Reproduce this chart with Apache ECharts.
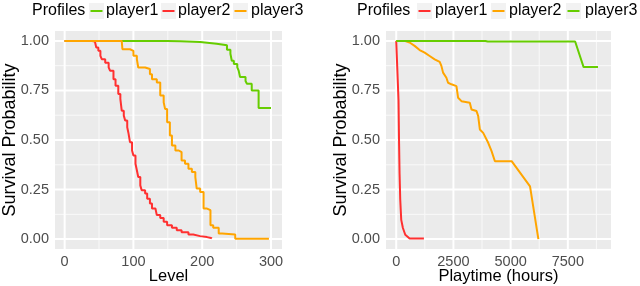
<!DOCTYPE html>
<html><head><meta charset="utf-8">
<script src="https://cdn.jsdelivr.net/npm/echarts@6/dist/echarts.min.js"></script>
<style>html,body{margin:0;padding:0;background:#fff}#c{width:640px;height:286px}</style>
</head><body><div id="c"></div>
<script>
// ---------- data ----------
const legendTitle = 'Profiles';
const playerNames = ['player1', 'player2', 'player3'];
const leftXTitle = 'Level';
const rightXTitle = 'Playtime (hours)';
const yTitle = 'Survival Probability';

// Left panel: survival probability by level
const levelPlayer1 = [[0,1],[100,1],[149,0.998],[168,0.995],[197,0.986],[221,0.978],[236,0.955],[241,0.935],[243,0.90],[246,0.884],[251,0.866],[253,0.85],[255,0.818],[263,0.798],[265,0.784],[272,0.75],[282,0.661],[300,0.661]];
const levelPlayer2 = [[0,1],[40,0.997],[44,0.988],[46,0.967],[49,0.95],[52,0.925],[54,0.908],[59,0.89],[64,0.866],[66,0.85],[71,0.807],[74,0.774],[78,0.732],[81,0.707],[83,0.648],[86,0.623],[88,0.598],[91,0.564],[93,0.531],[95,0.489],[98,0.447],[100,0.422],[103,0.38],[105,0.347],[107,0.313],[110,0.271],[112,0.246],[117,0.23],[120,0.204],[124,0.179],[127,0.154],[132,0.146],[134,0.121],[139,0.107],[144,0.087],[149,0.07],[156,0.057],[163,0.045],[170,0.034],[180,0.023],[187,0.015],[197,0.01],[207,0.006],[213,0.003],[214,0.003]];
const levelPlayer3 = [[0,1],[83,1],[84,0.958],[95,0.95],[100,0.925],[105,0.908],[107,0.866],[117,0.858],[124,0.832],[127,0.807],[134,0.79],[139,0.724],[144,0.69],[146,0.657],[149,0.59],[153,0.523],[156,0.472],[161,0.447],[166,0.439],[170,0.397],[175,0.38],[180,0.355],[185,0.338],[190,0.313],[192,0.255],[197,0.238],[202,0.154],[207,0.146],[212,0.07],[216,0.057],[224,0.028],[229,0.023],[248,0.002],[297,0.002]];

// Right panel: survival probability by playtime (hours)
const hoursPlayer1 = [[0,1],[40,0.99],[100,0.70],[125,0.48],[146,0.33],[175,0.2],[219,0.097],[292,0.056],[395,0.022],[585,0.003],[1210,0.003]];
const hoursPlayer2 = [[0,1],[365,1],[585,0.992],[804,0.975],[1023,0.954],[1243,0.941],[1462,0.924],[1681,0.907],[1900,0.894],[1974,0.874],[2047,0.84],[2193,0.814],[2266,0.789],[2412,0.781],[2632,0.772],[2705,0.713],[2851,0.696],[3216,0.688],[3290,0.654],[3509,0.646],[3582,0.621],[3655,0.553],[3801,0.536],[4020,0.486],[4167,0.444],[4313,0.393],[5044,0.393],[5848,0.266],[6213,0]];
const hoursPlayer3 = [[0,1],[3900,1],[4000,0.997],[7820,0.997],[8190,0.868],[8820,0.868]];

// Tick values
const yTicks = [0, 0.25, 0.5, 0.75, 1];
const yMinorTicks = [0.125, 0.375, 0.625, 0.875];
const levelTicks = [0, 100, 200, 300];
const levelMinorTicks = [50, 150, 250];
const hoursTicks = [0, 2500, 5000, 7500];
const hoursMinorTicks = [1250, 3750, 6250, 8750];

// ---------- styling ----------
const GREEN = '#66CD00', RED = '#FF3030', ORANGE = '#FFA500';
const leftColors = [GREEN, RED, ORANGE];
const rightColors = [RED, ORANGE, GREEN];
const FONT = '"Liberation Sans", Arial, Helvetica, sans-serif';
const PANEL = '#EBEBEB';

const grids = [
  {left: 55, top: 31, width: 227, height: 218},
  {left: 386, top: 31, width: 225, height: 218}
];
const xRanges = [[-14, 316], [-447, 9387]];
const yRange = [-0.05, 1.05];

function xAxisFor(i, ticks, title, fmt) {
  return {
    type: 'value', gridIndex: i, min: xRanges[i][0], max: xRanges[i][1],
    axisLine: {show: false},
    axisTick: {show: true, length: 3, lineStyle: {color: '#333', width: 1}, customValues: ticks},
    axisLabel: {customValues: ticks, color: '#4D4D4D', fontSize: 14.5, fontFamily: FONT, margin: 5, formatter: fmt},
    splitLine: {show: false},
    name: title, nameLocation: 'middle', nameGap: 19, nameMoveOverlap: false,
    nameTextStyle: {fontSize: 16.5, fontFamily: FONT, color: '#000', verticalAlign: 'top'}
  };
}
function yAxisFor(i) {
  return {
    type: 'value', gridIndex: i, min: yRange[0], max: yRange[1],
    axisLine: {show: false},
    axisTick: {show: true, length: 3, lineStyle: {color: '#333', width: 1}, customValues: yTicks},
    axisLabel: {customValues: yTicks, color: '#4D4D4D', fontSize: 14.5, fontFamily: FONT, margin: 6,
      formatter: v => v.toFixed(2)},
    splitLine: {show: false},
    name: yTitle, nameLocation: 'middle', nameGap: 36, nameRotate: 90, nameMoveOverlap: false,
    nameTextStyle: {fontSize: 18, fontFamily: FONT, color: '#000'}
  };
}

// panel background drawn as an area series spanning the full axis ranges (bottom layer)
function panelBackground(i) {
  return {
    type: 'line', xAxisIndex: i, yAxisIndex: i, silent: true, z: 1, animation: false,
    symbol: 'none', showSymbol: false,
    data: [[xRanges[i][0], yRange[1]], [xRanges[i][1], yRange[1]]],
    lineStyle: {width: 0, color: PANEL},
    areaStyle: {color: PANEL, opacity: 1, origin: 'start'}
  };
}

// grid lines drawn as two-point line series through the axes
function gridLines(i, vals, dir, width, color) {
  return vals.map(v => ({
    type: 'line', xAxisIndex: i, yAxisIndex: i, silent: true, z: 2, animation: false,
    symbol: 'none', showSymbol: false,
    data: dir === 'x' ? [[v, yRange[0]], [v, yRange[1]]] : [[xRanges[i][0], v], [xRanges[i][1], v]],
    lineStyle: {color: color, width: width, opacity: 1}, itemStyle: {color: color}
  }));
}

function curve(i, name, data, color, step) {
  return {
    type: 'line', name: name, xAxisIndex: i, yAxisIndex: i, data: data,
    step: step ? 'end' : false, showSymbol: false, symbol: 'none', z: 5,
    lineStyle: {color: color, width: 2}, itemStyle: {color: color}, animation: false
  };
}

const MAJOR = 2, MINOR = 1;
const MAJOR_COLOR = '#FFFFFF', MINOR_COLOR = '#F9F9F9';
let series = [panelBackground(0), panelBackground(1)];
series = series.concat(gridLines(0, levelMinorTicks, 'x', MINOR, MINOR_COLOR));
series = series.concat(gridLines(0, yMinorTicks, 'y', MINOR, MINOR_COLOR));
series = series.concat(gridLines(0, levelTicks, 'x', MAJOR, MAJOR_COLOR));
series = series.concat(gridLines(0, yTicks, 'y', MAJOR, MAJOR_COLOR));
series = series.concat(gridLines(1, hoursMinorTicks, 'x', MINOR, MINOR_COLOR));
series = series.concat(gridLines(1, yMinorTicks, 'y', MINOR, MINOR_COLOR));
series = series.concat(gridLines(1, hoursTicks, 'x', MAJOR, MAJOR_COLOR));
series = series.concat(gridLines(1, yTicks, 'y', MAJOR, MAJOR_COLOR));

const levelData = [levelPlayer1, levelPlayer2, levelPlayer3];
const hoursData = [hoursPlayer1, hoursPlayer2, hoursPlayer3];
playerNames.forEach((n, k) => series.push(curve(0, n, levelData[k], leftColors[k], true)));
playerNames.forEach((n, k) => series.push(curve(1, n, hoursData[k], rightColors[k], false)));

// ---------- legends (drawn as graphics) ----------
const legendLayouts = [
  {title: 32, keys: [89, 161, 233], texts: [106, 178, 251]},
  {title: 357, keys: [417, 491, 566], texts: [435, 509, 585]}
];
const legendColors = [leftColors, rightColors];
const graphic = [];
legendLayouts.forEach((L, p) => {
  graphic.push({type: 'text', left: L.title, top: 3, silent: true,
    style: {text: legendTitle, font: '16px ' + FONT, fill: '#000'}});
  playerNames.forEach((n, k) => {
    graphic.push({type: 'rect', shape: {x: L.keys[k], y: 3, width: 15, height: 16}, silent: true,
      style: {fill: '#F2F2F2'}});
    graphic.push({type: 'line', shape: {x1: L.keys[k] + 1.5, y1: 11, x2: L.keys[k] + 13.5, y2: 11}, silent: true,
      style: {stroke: legendColors[p][k], lineWidth: 2}});
    graphic.push({type: 'text', left: L.texts[k], top: 3, silent: true,
      style: {text: n, font: '16px ' + FONT, fill: '#000'}});
  });
});

const chart = echarts.init(document.getElementById('c'), null, {renderer: 'canvas'});
chart.setOption({
  animation: false,
  backgroundColor: '#FFFFFF',
  textStyle: {fontFamily: FONT},
  grid: grids.map(g => Object.assign({show: false, borderWidth: 0,
    containLabel: false, outerBoundsMode: 'none'}, g)),
  xAxis: [xAxisFor(0, levelTicks, leftXTitle, v => String(v)), xAxisFor(1, hoursTicks, rightXTitle, v => String(v))],
  yAxis: [yAxisFor(0), yAxisFor(1)],
  series: series,
  graphic: graphic
});
</script>
</body></html>
